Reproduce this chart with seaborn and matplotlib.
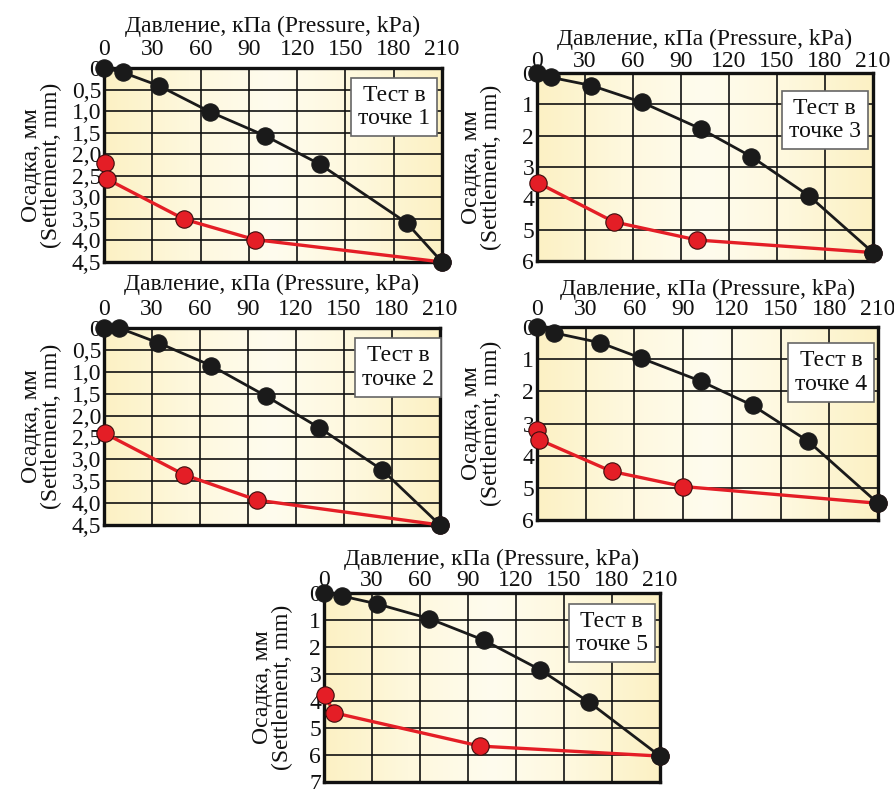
import numpy as np
import pandas as pd
import matplotlib
matplotlib.use("Agg")
import matplotlib.pyplot as plt
import seaborn as sns
from matplotlib.colors import LinearSegmentedColormap

# ------------------------------------------------------------
# Data: pressure (kPa) vs settlement (mm)
# ------------------------------------------------------------
pressure_ticks = [0, 30, 60, 90, 120, 150, 180, 210]

# Test point 1
p1_load_x = [0, 11.5, 34, 66, 100, 134, 188, 210]
p1_load_y = [0, 0.10, 0.41, 1.02, 1.57, 2.23, 3.59, 4.5]
p1_unload_x = [0.4, 2, 50, 93.6, 210]
p1_unload_y = [2.21, 2.58, 3.51, 3.98, 4.5]

# Test point 2
p2_load_x = [0, 9.4, 34, 67, 101, 134.6, 173.8, 210]
p2_load_y = [0, 0, 0.34, 0.86, 1.55, 2.28, 3.24, 4.5]
p2_unload_x = [0.4, 0.4, 50, 95.5, 210]
p2_unload_y = [2.28, 2.53, 3.35, 3.93, 4.5]

# Test point 3
p3_load_x = [0, 8.8, 34, 65.8, 102.7, 134, 170, 210]
p3_load_y = [0, 0.14, 0.40, 0.94, 1.79, 2.67, 3.92, 5.73]
p3_unload_x = [0.4, 48, 100, 210]
p3_unload_y = [3.5, 4.75, 5.33, 5.73]

# Test point 4
p4_load_x = [0, 10.3, 39, 64.2, 100.7, 132.9, 167, 210]
p4_load_y = [0, 0.18, 0.49, 0.97, 1.68, 2.44, 3.55, 5.48]
p4_unload_x = [0, 1.2, 46, 90.2, 210]
p4_unload_y = [3.2, 3.5, 4.49, 4.96, 5.48]

# Test point 5
p5_load_x = [0, 11, 33, 65.8, 100, 135, 165.6, 210]
p5_load_y = [0, 0.11, 0.40, 0.95, 1.75, 2.84, 4.04, 6.04]
p5_unload_x = [0.4, 6.5, 97.5, 210]
p5_unload_y = [3.79, 4.44, 5.67, 6.04]

comma_ticks = [0, 0.5, 1.0, 1.5, 2.0, 2.5, 3.0, 3.5, 4.0, 4.5]
comma_labels = ["0", "0,5", "1,0", "1,5", "2,0", "2,5", "3,0", "3,5", "4,0", "4,5"]

panels = [
    dict(name="1", lx=p1_load_x, ly=p1_load_y, ux=p1_unload_x, uy=p1_unload_y,
         ymax=4.5, yt=comma_ticks, yl=comma_labels,
         px=(104, 68, 442, 262), box=(0.858, 0.80),
         ylab=-0.124, xlab=1.186, tpad=5.8),
    dict(name="3", lx=p3_load_x, ly=p3_load_y, ux=p3_unload_x, uy=p3_unload_y,
         ymax=6, yt=list(range(7)), yl=[str(i) for i in range(7)],
         px=(537, 73, 873, 261), box=(0.856, 0.75),
         ylab=-0.104, xlab=1.149, tpad=1.0),
    dict(name="2", lx=p2_load_x, ly=p2_load_y, ux=p2_unload_x, uy=p2_unload_y,
         ymax=4.5, yt=comma_ticks, yl=comma_labels,
         px=(104, 328, 440, 525), box=(0.875, 0.80),
         ylab=-0.125, xlab=1.193, tpad=5.8),
    dict(name="4", lx=p4_load_x, ly=p4_load_y, ux=p4_unload_x, uy=p4_unload_y,
         ymax=6, yt=list(range(7)), yl=[str(i) for i in range(7)],
         px=(537, 327, 878, 520), box=(0.862, 0.764),
         ylab=-0.103, xlab=1.166, tpad=5.0),
    dict(name="5", lx=p5_load_x, ly=p5_load_y, ux=p5_unload_x, uy=p5_unload_y,
         ymax=7, yt=list(range(8)), yl=[str(i) for i in range(8)],
         px=(324, 593, 660, 782), box=(0.856, 0.788),
         ylab=-0.092, xlab=1.148, tpad=1.4),
]

# ------------------------------------------------------------
# Style
# ------------------------------------------------------------
sns.set_theme(style="white")
plt.rcParams["font.family"] = ["Liberation Serif", "DejaVu Serif"]

FS = 17
W, H = 894, 789
fig = plt.figure(figsize=(W / 100, H / 100), dpi=100)

bg_cmap = LinearSegmentedColormap.from_list(
    "paper", ["#fcf1c4", "#fef8dd", "#fffcee", "#fef8dd", "#fcf1c4"])
grad = np.linspace(0, 1, 256).reshape(1, -1)

for p in panels:
    l, t, r, b = p["px"]
    ax = fig.add_axes([l / W, 1 - b / H, (r - l) / W, (b - t) / H])

    ax.imshow(grad, extent=(0, 210, p["ymax"], 0), aspect="auto",
              cmap=bg_cmap, zorder=0)

    unload = pd.DataFrame({"x": p["ux"], "y": p["uy"]})
    load = pd.DataFrame({"x": p["lx"], "y": p["ly"]})

    sns.lineplot(data=unload, x="x", y="y", sort=False, ax=ax,
                 color="#e41e26", lw=2.4, marker="o", markersize=12.5,
                 markerfacecolor="#e41e26", markeredgecolor="#3a0c0c",
                 markeredgewidth=0.8, clip_on=False, zorder=3)
    sns.lineplot(data=load, x="x", y="y", sort=False, ax=ax,
                 color="#1a1a1a", lw=2, marker="o", markersize=12.5,
                 markerfacecolor="#1a1a1a", markeredgecolor="#1a1a1a",
                 clip_on=False, zorder=4)

    ax.set_xlim(0, 210)
    ax.set_ylim(p["ymax"], 0)
    ax.set_xticks(pressure_ticks)
    ax.set_yticks(p["yt"])
    ax.set_yticklabels(p["yl"])
    ax.xaxis.tick_top()
    ax.xaxis.set_label_position("top")
    ax.tick_params(axis="x", length=0, pad=p["tpad"], labelsize=FS, colors="#111")
    ax.tick_params(axis="y", length=0, pad=2, labelsize=FS, colors="#111")

    ax.grid(True, color="#111", lw=1.2)
    ax.set_axisbelow(True)
    for s in ax.spines.values():
        s.set_color("#111")
        s.set_linewidth(2.4)

    ax.set_xlabel("Давление, кПа (Pressure, kPa)", fontsize=FS, color="#111")
    ax.xaxis.set_label_coords(0.5, p["xlab"])
    ax.set_ylabel("Осадка, мм\n(Settlement, mm)", fontsize=FS,
                  color="#111", linespacing=0.95)
    ax.yaxis.set_label_coords(p["ylab"], 0.5)

    ax.text(p["box"][0], p["box"][1], "Тест в\nточке " + p["name"],
            transform=ax.transAxes, ha="center", va="center",
            multialignment="center", fontsize=FS, color="#111", zorder=6,
            linespacing=1.15,
            bbox=dict(boxstyle="square,pad=0.3", fc="white",
                      ec="#666", lw=1.2))

fig.savefig("out.png", dpi=100, facecolor="white")
